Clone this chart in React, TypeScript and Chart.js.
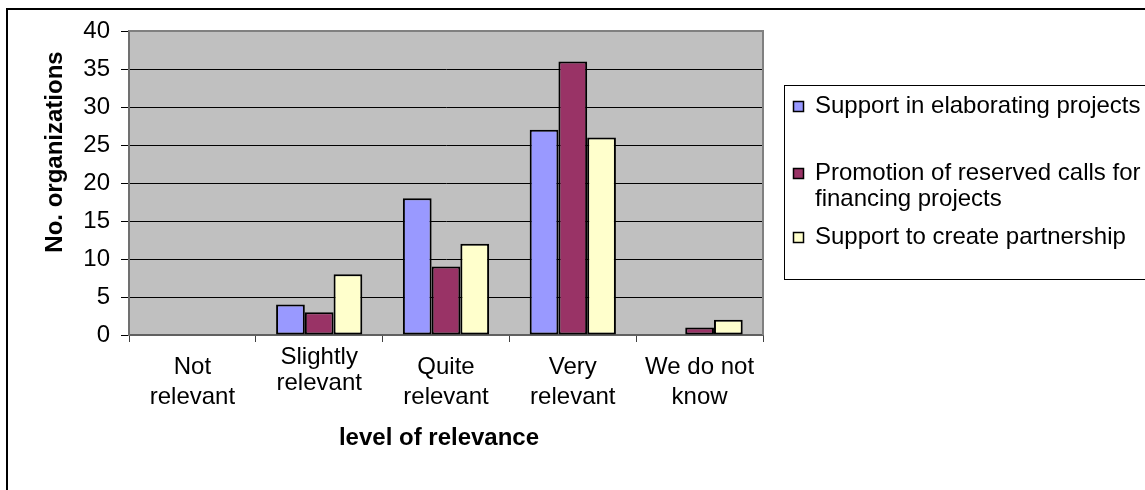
import React, { useEffect, useRef } from "react";
import { Chart, registerables } from "chart.js";

Chart.register(...registerables);

// ---- data ----
const categoryLabels: string[][] = [
  ["Not", "relevant"],
  ["Slightly", "relevant"],
  ["Quite", "relevant"],
  ["Very", "relevant"],
  ["We do not", "know"],
];
const seriesNames = [
  "Support in elaborating projects",
  "Promotion of reserved calls for financing projects",
  "Support to create partnership",
];
const legendLines: string[][] = [
  ["Support in elaborating projects"],
  ["Promotion of reserved calls for", "financing projects"],
  ["Support to create partnership"],
];
const supportElaborating = [0, 4, 18, 27, 0];
const promotionCalls = [0, 3, 9, 36, 1];
const supportPartnership = [0, 8, 12, 26, 2];
const yMin = 0;
const yMax = 40;
const yStep = 5;
const xAxisTitle = "level of relevance";
const yAxisTitle = "No. organizations";

const colors = ["#9999FF", "#993366", "#FFFFCC"];
const FONT = "'Liberation Sans', Arial, sans-serif";
const W = 1145;
const H = 490;
// the reference renders this one category label slightly higher than the others
const raisedLabelIndex = 1;

const decorPlugin = {
  id: "decor",
  beforeDraw(chart: any) {
    const { ctx, chartArea: a } = chart;
    ctx.save();
    ctx.fillStyle = "#C0C0C0";
    ctx.fillRect(a.left, a.top, a.right - a.left, a.bottom - a.top);
    ctx.strokeStyle = "#000";
    ctx.lineWidth = 2;
    ctx.strokeRect(7, 9, 1600, 900);
    ctx.restore();
  },
  afterDraw(chart: any) {
    const { ctx, chartArea: a } = chart;
    ctx.save();
    // plot area border (top & right)
    ctx.strokeStyle = "#808080";
    ctx.lineWidth = 2;
    ctx.beginPath();
    ctx.moveTo(a.left, a.top);
    ctx.lineTo(a.right, a.top);
    ctx.lineTo(a.right, a.bottom);
    ctx.stroke();

    // axis titles
    ctx.fillStyle = "#000";
    ctx.font = `bold 24px ${FONT}`;
    ctx.textAlign = "center";
    ctx.textBaseline = "middle";
    ctx.fillText(xAxisTitle, 439, 438);
    ctx.save();
    ctx.translate(55, 152);
    ctx.rotate(-Math.PI / 2);
    ctx.fillText(yAxisTitle, 0, 0);
    ctx.restore();

    // legend box
    ctx.strokeStyle = "#000";
    ctx.lineWidth = 1;
    ctx.strokeRect(784.5, 85.5, 1000, 194);
    const itemY = [106, 173, 237];
    ctx.font = `24px ${FONT}`;
    ctx.textAlign = "left";
    chart.data.datasets.forEach((ds: any, i: number) => {
      const y = itemY[i];
      ctx.fillStyle = ds.backgroundColor;
      ctx.fillRect(793, y - 5, 11, 11);
      ctx.strokeStyle = "#000";
      ctx.lineWidth = 1.5;
      ctx.strokeRect(793.5, y - 4.5, 10, 10);
      ctx.fillStyle = "#000";
      legendLines[i].forEach((line, k) => {
        ctx.fillText(line, 815, y + k * 26);
      });
    });
    ctx.restore();
  },
};

export default function App() {
  const ref = useRef<HTMLCanvasElement | null>(null);
  useEffect(() => {
    if (!ref.current) return;
    const chart = new Chart(ref.current, {
      type: "bar",
      data: {
        labels: categoryLabels,
        datasets: [supportElaborating, promotionCalls, supportPartnership].map((d, i) => ({
          label: seriesNames[i],
          data: d,
          backgroundColor: colors[i],
          borderColor: "#000",
          borderWidth: 2,
          borderSkipped: false,
          categoryPercentage: 0.68,
          barPercentage: 1,
        })),
      },
      options: {
        responsive: false,
        animation: false,
        devicePixelRatio: 1,
        layout: { padding: { left: 0, top: 31, right: 382, bottom: 0 } },
        plugins: {
          legend: { display: false },
          tooltip: { enabled: false },
          title: { display: false },
        },
        scales: {
          x: {
            afterFit: (s: any) => {
              s.height = 155;
            },
            grid: {
              offset: true,
              drawOnChartArea: false,
              drawTicks: true,
              tickLength: 7,
              color: "#404040",
              lineWidth: 1,
            },
            border: { display: true, color: "#606060", width: 2 },
            ticks: {
              color: "#000",
              padding: 15,
              maxRotation: 0,
              autoSkip: false,
              crossAlign: "center",
              callback: (_v: any, idx: number) =>
                idx === raisedLabelIndex ? [...categoryLabels[idx], ""] : categoryLabels[idx],
              font: (c: any) => ({
                family: FONT,
                size: 24,
                lineHeight: c.index === raisedLabelIndex ? 1.11 : 1.25,
              }),
            },
          },
          y: {
            min: yMin,
            max: yMax,
            afterFit: (s: any) => {
              s.width = 129;
            },
            grid: {
              color: "#000",
              lineWidth: 1,
              drawTicks: true,
              tickLength: 8,
            },
            border: { display: true, color: "#707070", width: 2 },
            ticks: {
              stepSize: yStep,
              color: "#000",
              padding: 11,
              font: { family: FONT, size: 24 },
            },
          },
        },
      },
      plugins: [decorPlugin],
    });
    return () => chart.destroy();
  }, []);
  return (
    <div style={{ position: "absolute", left: 0, top: 0, width: W, height: H, background: "#fff" }}>
      <canvas ref={ref} width={W} height={H} style={{ width: W, height: H, display: "block" }} />
    </div>
  );
}
